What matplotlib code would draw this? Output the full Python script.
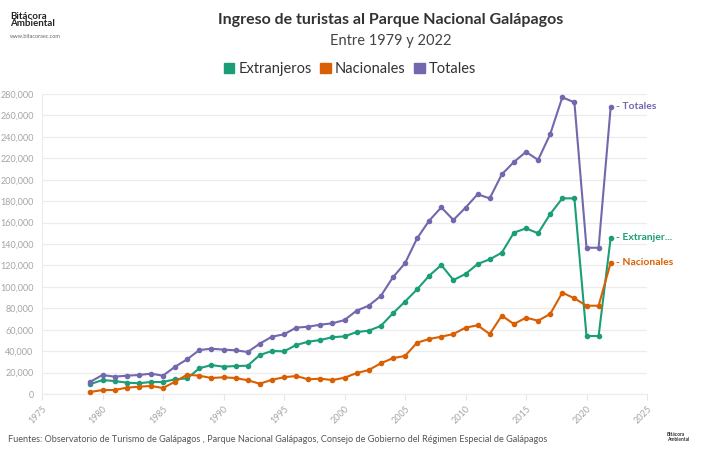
import matplotlib
matplotlib.use("Agg")
import matplotlib.pyplot as plt
from matplotlib.patches import Patch

years = list(range(1979, 2023))
extranjeros = [9300, 13000, 12100, 10600, 10000, 11200, 11200, 13700, 14600, 24000,
               27000, 25500, 26100, 26400, 36400, 40100, 39800, 45700, 48800, 50400,
               53000, 53800, 57800, 59100, 63500, 75300, 86200, 97700, 110400, 120400,
               106400, 112000, 121300, 125700, 131900, 150600, 154600, 150000, 168000, 182600,
               182600, 54100, 54100, 145900]
nacionales = [1900, 3700, 3700, 5900, 6800, 7500, 5600, 11500, 18000, 17100,
              14900, 15600, 14900, 12800, 9600, 13300, 15600, 16800, 13700, 14300,
              13000, 15200, 19500, 22400, 28600, 33500, 35500, 47900, 51300, 53500,
              56000, 61900, 64100, 56000, 73100, 65300, 71200, 68400, 74700, 94600,
              89300, 82400, 82400, 122600]
totales = [11500, 17700, 16200, 17100, 17700, 19000, 17100, 25500, 32400, 41000,
           42300, 41400, 40800, 39200, 47000, 53500, 55700, 61900, 62800, 64700,
           66000, 69000, 77800, 82400, 91500, 108900, 122000, 145300, 161800, 174200,
           162400, 173900, 186400, 182600, 205000, 216500, 226000, 218500, 242500, 276900,
           272200, 136500, 136500, 268000]

series = [("Extranjeros", extranjeros, "#1b9e77", "Extranjer..."),
          ("Nacionales", nacionales, "#d95f02", "Nacionales"),
          ("Totales", totales, "#7168ad", "Totales")]

plt.rcParams['font.family'] = ['Lato', 'DejaVu Sans']

fig = plt.figure(figsize=(7.07, 4.51), dpi=100)
ax = fig.add_axes([42/707, 1 - 394/451, (647-42)/707, 300/451])

for name, vals, col, _ in series:
    ax.plot(years, vals, color=col, lw=1.5, marker='o', ms=3, label=name,
            clip_on=False, zorder=3)

# end labels
for name, vals, col, lab in series:
    ax.annotate("- " + lab, xy=(years[-1], vals[-1]), xytext=(4, 0),
                textcoords='offset points', va='center', ha='left',
                fontsize=7.5, fontweight='bold', color=col, annotation_clip=False)

ax.set_xlim(1975, 2025)
ax.set_ylim(0, 280000)
ax.set_xticks(range(1975, 2026, 5))
ax.set_yticks(range(0, 280001, 20000))
ax.set_yticklabels([f"{v:,}" for v in range(0, 280001, 20000)])
ax.tick_params(axis='y', length=0, labelsize=6.5, labelcolor='#a5a5a5', pad=6)
ax.tick_params(axis='x', length=4, color='#e6e6e6', labelsize=6.5, labelcolor='#a5a5a5')
for lbl in ax.get_xticklabels():
    lbl.set_rotation(45)
    lbl.set_ha('right')
    lbl.set_rotation_mode('anchor')
ax.grid(axis='y', color='#ececec', lw=0.9)
ax.set_axisbelow(True)
for s in ['top', 'right']:
    ax.spines[s].set_visible(False)
ax.spines['left'].set_color('#ececec')
ax.spines['bottom'].set_color('#ececec')

fig.text(0.553, 1 - 20/451, "Ingreso de turistas al Parque Nacional Galápagos",
         ha='center', va='center', fontsize=11.5, fontweight='bold', color='#333333')
fig.text(0.553, 1 - 41/451, "Entre 1979 y 2022", ha='center', va='center',
         fontsize=10.5, color='#444444')

handles = [Patch(facecolor=c, edgecolor=c) for _, _, c, _ in series]
fig.legend(handles, [n for n, _, _, _ in series], loc='center',
           bbox_to_anchor=(0.495, 1 - 69/451), ncol=3, frameon=False, fontsize=10.5,
           handlelength=0.7, handleheight=0.7, handletextpad=0.3, columnspacing=0.6,
           labelcolor='#333333')

# logo top-left
fig.text(10/707, 1 - 20/451, "Bitácora\nAmbiental", ha='left', va='center',
         fontsize=7, fontweight='bold', color='#222222', linespacing=0.85)
fig.text(10/707, 1 - 37/451, "www.bitacoraec.com", ha='left', va='center',
         fontsize=4, color='#666666')

# source
fig.text(8/707, 1 - 440/451,
         "Fuentes: Observatorio de Turismo de Galápagos , Parque Nacional Galápagos, Consejo de Gobierno del Régimen Especial de Galápagos",
         ha='left', va='center', fontsize=6.6, color='#555555')
fig.text(667/707, 1 - 437/451, "Bitácora\nAmbiental", ha='left', va='center',
         fontsize=3.5, fontweight='bold', color='#333333', linespacing=0.9)

fig.savefig("out.png", dpi=100, facecolor='white')
